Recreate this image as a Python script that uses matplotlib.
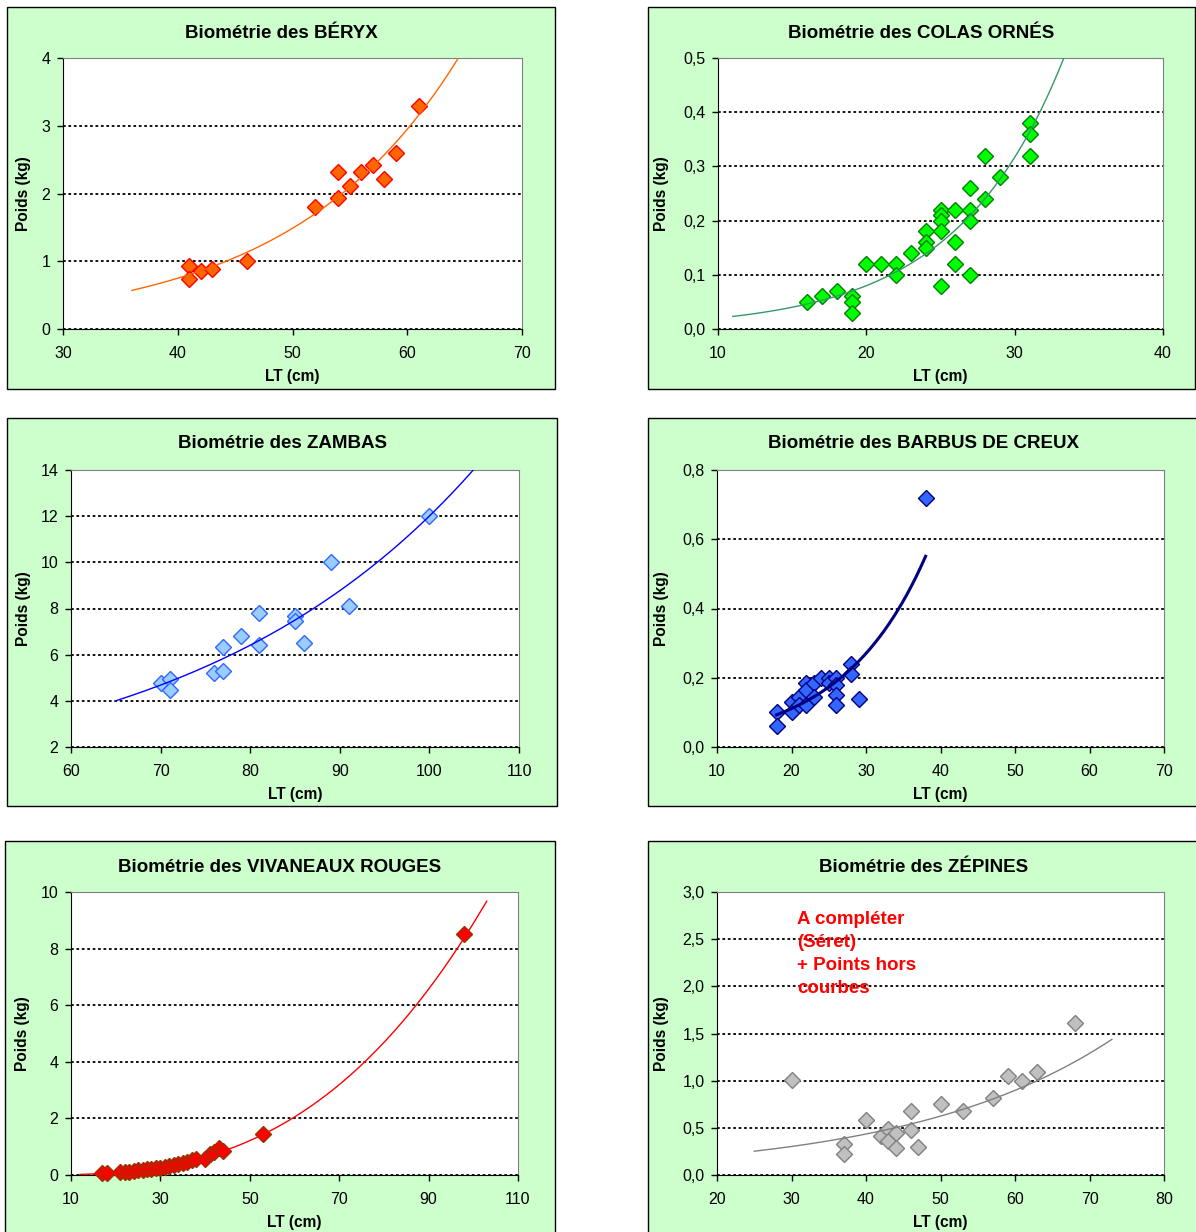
import numpy as np
import matplotlib.pyplot as plt
from matplotlib.patches import Rectangle
from matplotlib.ticker import FuncFormatter, MultipleLocator, FixedLocator

plt.rcParams['font.family'] = ['Liberation Sans', 'DejaVu Sans']

W, H = 1196, 1232

# --- données ---
beryx_lt = [41, 41, 42, 43, 46, 52, 54, 54, 55, 56, 57, 58, 59, 61]
beryx_poids = [0.93, 0.74, 0.85, 0.89, 1.0, 1.8, 2.32, 1.94, 2.11, 2.32, 2.42, 2.21, 2.6, 3.29]

colas_lt = [16, 17, 18, 19, 19, 19, 20, 21, 22, 22, 23, 24, 24, 24, 25, 25, 25, 25, 25,
            26, 26, 26, 27, 27, 27, 27, 28, 28, 29, 31, 31, 31]
colas_poids = [0.05, 0.06, 0.07, 0.06, 0.05, 0.03, 0.12, 0.12, 0.12, 0.10, 0.14, 0.18, 0.16, 0.15,
               0.22, 0.21, 0.20, 0.18, 0.08, 0.22, 0.16, 0.12, 0.26, 0.22, 0.20, 0.10, 0.32, 0.24,
               0.28, 0.38, 0.36, 0.32]

zambas_lt = [70, 71, 71, 76, 77, 77, 79, 81, 81, 85, 85, 86, 89, 91, 100]
zambas_poids = [4.76, 4.96, 4.47, 5.22, 5.31, 6.32, 6.82, 7.81, 6.42, 7.67, 7.47, 6.52, 10.0, 8.1, 12.0]

barbus_lt = [18, 18, 20, 20, 21, 21, 22, 22, 22, 23, 23, 24, 25, 25, 26, 26, 26, 26, 28, 28, 29, 38]
barbus_poids = [0.10, 0.06, 0.13, 0.10, 0.145, 0.12, 0.185, 0.165, 0.12, 0.185, 0.145, 0.20, 0.20,
                0.185, 0.20, 0.18, 0.15, 0.12, 0.24, 0.21, 0.14, 0.72]

viv_lt = [17, 18, 21, 22, 23, 24, 25, 26, 27, 28, 29, 30, 31, 32, 33, 34, 35, 36, 37, 38,
          40, 41, 42, 43, 44, 53, 98]
viv_poids = [0.07, 0.07, 0.10, 0.11, 0.12, 0.14, 0.16, 0.18, 0.20, 0.22, 0.24, 0.26, 0.30, 0.32,
             0.36, 0.38, 0.43, 0.46, 0.52, 0.55, 0.58, 0.75, 0.80, 0.95, 0.86, 1.45, 8.53]

zep_lt = [30, 37, 37, 40, 42, 43, 43, 44, 44, 46, 46, 47, 50, 53, 57, 59, 61, 63, 68]
zep_poids = [1.01, 0.33, 0.22, 0.58, 0.41, 0.49, 0.36, 0.45, 0.29, 0.68, 0.48, 0.30, 0.75, 0.68,
             0.82, 1.05, 1.0, 1.09, 1.61]

titles = ['Biométrie des BÉRYX', 'Biométrie des COLAS ORNÉS', 'Biométrie des ZAMBAS',
          'Biométrie des BARBUS DE CREUX', 'Biométrie des VIVANEAUX ROUGES', 'Biométrie des ZÉPINES']
# étendue des courbes de tendance (cm)
trend_range = [(36, 66), (11, 36), (65, 105), (18, 38), (12, 103), (25, 73)]
trend_type = ['exp', 'exp', 'exp', 'exp', 'pow', 'exp']

fig = plt.figure(figsize=(W / 100, H / 100), dpi=100)


def fbox(x0, y0, x1, y1):
    return [x0 / W, 1 - y1 / H, (x1 - x0) / W, (y1 - y0) / H]


def comma(dec):
    return FuncFormatter(lambda v, p: f'{v:.{dec}f}'.replace('.', ','))


def panel(box, plot, title, x, y, xticks, ylim, ystep, dec, mfc, mec, lc, lw, trange, ttype, ylab_off):
    fig.patches.append(Rectangle((box[0] / W, 1 - box[3] / H), (box[2] - box[0]) / W,
                                 (box[3] - box[1]) / H, transform=fig.transFigure,
                                 fc='#CCFFCC', ec='black', lw=1, zorder=-1))
    fig.text((box[0] + box[2]) / 2 / W, 1 - (box[1] + 26) / H, title, ha='center', va='center',
             fontsize=13.5, fontweight='bold')
    ax = fig.add_axes(fbox(*plot))
    pw = plot[2] - plot[0]
    ph = plot[3] - plot[1]
    ax.plot(x, y, 'D', ms=8, mfc=mfc, mec=mec, mew=1, zorder=3, clip_on=False)
    xs = np.linspace(trange[0], trange[1], 200)
    if ttype == 'exp':
        b, a = np.polyfit(x, np.log(y), 1)
        ys = np.exp(a + b * xs)
    else:
        b, a = np.polyfit(np.log(x), np.log(y), 1)
        ys = np.exp(a) * xs ** b
    ax.plot(xs, ys, color=lc, lw=lw, zorder=4)
    ax.set_xlim(xticks[0], xticks[-1])
    ax.set_ylim(*ylim)
    ax.xaxis.set_major_locator(FixedLocator(xticks))
    ax.yaxis.set_major_locator(MultipleLocator(ystep))
    ax.yaxis.set_major_formatter(comma(dec))
    ax.yaxis.grid(True, linestyle=(0, (1.5, 1.5)), color='black', lw=1.3)
    ax.set_axisbelow(True)
    for s in ['top', 'right']:
        ax.spines[s].set_color('#808080')
    for s in ['left', 'bottom']:
        ax.spines[s].set_color('black')
    ax.tick_params(direction='out', length=4, width=1, labelsize=11.5)
    ax.tick_params(axis='x', pad=8)
    ax.tick_params(axis='y', pad=5)
    ax.set_xlabel('LT (cm)', fontsize=11.2, fontweight='bold')
    ax.set_ylabel('Poids (kg)', fontsize=11.2, fontweight='bold')
    ax.xaxis.set_label_coords(0.5, -40 / ph)
    ax.yaxis.set_label_coords(-ylab_off / pw, 0.5)
    return ax


panel((7, 7, 555, 389), (63, 58, 522, 329), titles[0], beryx_lt, beryx_poids, [30, 40, 50, 60, 70],
      (0, 4), 1, 0, '#FF6600', '#FF0000', '#FF6600', 1, trend_range[0], trend_type[0], 32)
panel((648, 7, 1195, 389), (718, 58, 1163, 329), titles[1], colas_lt, colas_poids, [10, 20, 30, 40],
      (0, 0.5), 0.1, 1, '#00FF00', '#008000', '#339966', 1, trend_range[1], trend_type[1], 49)
panel((7, 418, 557, 806), (71, 470, 519, 747), titles[2], zambas_lt, zambas_poids,
      [60, 70, 80, 90, 100, 110], (2, 14), 2, 0, '#99CCFF', '#3366FF', '#0000FF', 1,
      trend_range[2], trend_type[2], 40)
panel((648, 418, 1200, 806), (717, 470, 1164, 747), titles[3], barbus_lt, barbus_poids,
      [10, 20, 30, 40, 50, 60, 70], (0, 0.8), 0.2, 1, '#3366FF', '#000080', '#000080', 2.2,
      trend_range[3], trend_type[3], 48)
panel((5, 841, 555, 1240), (71, 892, 518, 1175), titles[4], viv_lt, viv_poids,
      [10, 30, 50, 70, 90, 110], (0, 10), 2, 0, '#FF0000', '#993300', '#FF0000', 1,
      trend_range[4], trend_type[4], 41)
panel((648, 841, 1200, 1240), (717, 892, 1164, 1175), titles[5], zep_lt, zep_poids,
      [20, 30, 40, 50, 60, 70, 80], (0, 3), 0.5, 1, '#C0C0C0', '#808080', '#808080', 1,
      trend_range[5], trend_type[5], 48)

fig.text(797 / W, 1 - 911 / H, 'A compléter\n(Séret)\n+ Points hors\ncourbes',
         color='red', fontsize=13.5, fontweight='bold', va='top', ha='left', linespacing=1.45)

fig.savefig('out.png', dpi=100)
